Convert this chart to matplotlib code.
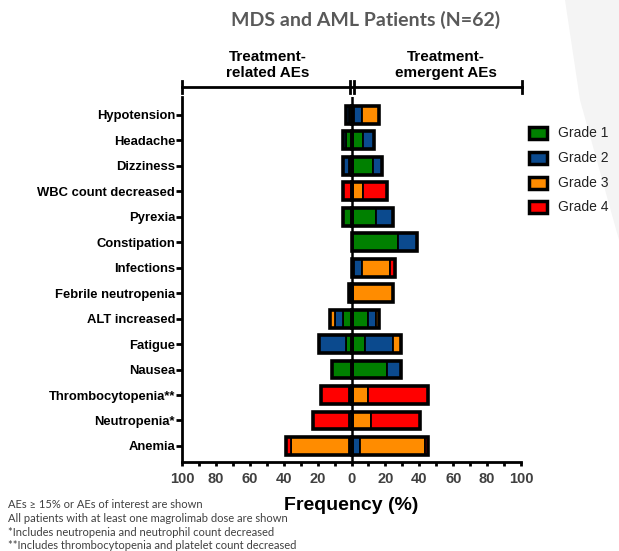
import numpy as np
import matplotlib
matplotlib.use("Agg")
import matplotlib.pyplot as plt
from matplotlib.patches import Rectangle, Polygon
from matplotlib.ticker import MultipleLocator, FuncFormatter

# categories, top to bottom
categories = ["Hypotension", "Headache", "Dizziness", "WBC count decreased", "Pyrexia",
              "Constipation", "Infections", "Febrile neutropenia", "ALT increased",
              "Fatigue", "Nausea", "Thrombocytopenia**", "Neutropenia*", "Anemia"]
grades = ["Grade 1", "Grade 2", "Grade 3", "Grade 4"]
grade_colors = ["#008000", "#0b4a8e", "#ff8c00", "#ff0000"]

# treatment-emergent AEs (right side), % per grade
teae_g1 = [1.6, 6.5, 12.9, 0, 14.5, 27.4, 1.6, 0, 9.7, 8.1, 21.0, 0, 0, 0]
teae_g2 = [4.8, 6.5, 4.8, 0, 9.7, 11.3, 4.8, 0, 4.8, 16.1, 8.1, 0, 0, 4.8]
teae_g3 = [9.7, 0, 0, 6.5, 0, 0, 16.1, 24.2, 1.6, 4.8, 0, 9.7, 11.3, 38.7]
teae_g4 = [0, 0, 0, 14.5, 0, 0, 3.2, 0, 0, 0, 0, 35.5, 29.0, 1.6]

# treatment-related AEs (left side), % per grade
trae_g1 = [1.6, 3.2, 1.6, 0, 4.8, 0, 0, 0, 4.8, 3.2, 11.3, 0, 0, 0]
trae_g2 = [1.6, 1.6, 3.2, 0, 0, 0, 0, 0, 4.8, 16.1, 0, 1.6, 0, 1.6]
trae_g3 = [0, 0, 0, 0, 0, 0, 0, 1.6, 3.2, 0, 0, 0, 1.6, 33.9]
trae_g4 = [0, 0, 0, 4.8, 0, 0, 0, 0, 0, 0, 0, 16.1, 21.0, 3.2]

footnotes = ["AEs \u2265 15% or AEs of interest are shown",
             "All patients with at least one magrolimab dose are shown",
             "*Includes neutropenia and neutrophil count decreased",
             "**Includes thrombocytopenia and platelet count decreased"]

W, H = 619, 551
fig = plt.figure(figsize=(W / 100, H / 100), dpi=100)

def fy(py):
    return 1 - py / H
def fx(px):
    return px / W

# faint slide decoration top right
fig.add_artist(Polygon([(fx(565), fy(0)), (fx(619), fy(0)), (fx(619), fy(240)), (fx(580), fy(100))],
                       closed=True, facecolor="#f4f4f4", edgecolor="none",
                       transform=fig.transFigure, zorder=0))

ax = fig.add_axes([182 / W, 1 - 462 / H, (521 - 182) / W, (462 - 97) / H])
ax.patch.set_alpha(0)

y = np.arange(len(categories))
bh = 0.7

def draw_side(series, sign):
    left = np.zeros(len(categories))
    for vals, col in zip(series, grade_colors):
        vals = np.array(vals, dtype=float)
        ax.barh(y, sign * vals, left=sign * left, height=bh, color=col,
                edgecolor="black", linewidth=1.3, zorder=3)
        left += vals
    # thick outline round each whole bar
    for yi, tot in zip(y, left):
        if tot > 0:
            ax.add_patch(Rectangle((0, yi - bh / 2), sign * tot, bh, fill=False,
                                   edgecolor="black", linewidth=2.6, zorder=4))

draw_side([teae_g1, teae_g2, teae_g3, teae_g4], 1)
draw_side([trae_g1, trae_g2, trae_g3, trae_g4], -1)

ax.axvline(0, color="black", linewidth=1.8, zorder=5)

ax.set_xlim(-100, 100)
ax.set_ylim(len(categories) - 1 + 0.63, -0.7)
ax.set_yticks(y)
ax.set_yticklabels(categories, fontsize=9.4, fontweight="bold", family="Liberation Sans")
ax.xaxis.set_major_locator(MultipleLocator(20))
ax.xaxis.set_minor_locator(MultipleLocator(10))
ax.xaxis.set_major_formatter(FuncFormatter(lambda v, p: f"{abs(v):.0f}"))
for lab in ax.get_xticklabels():
    lab.set_fontweight("bold")
    lab.set_family("Liberation Sans")
ax.tick_params(axis="x", labelsize=10.5, labelcolor="#404040", width=2, length=3,
               direction="out", pad=4)
ax.tick_params(axis="x", which="minor", width=2, length=3, direction="out")
ax.tick_params(axis="y", width=2, length=4, pad=1)
for s in ["top", "right"]:
    ax.spines[s].set_visible(False)
ax.spines["left"].set_linewidth(2)
ax.spines["bottom"].set_linewidth(2)

ax.set_xlabel("Frequency (%)", fontsize=14, fontweight="bold", family="Liberation Sans",
              labelpad=8)

# bracket over the two halves
by = 87
lk = dict(color="black", linewidth=2, transform=fig.transFigure)
fig.add_artist(plt.Line2D([fx(182), fx(522)], [fy(by), fy(by)], **lk))
for px in [182, 350.5, 354, 522]:
    fig.add_artist(plt.Line2D([fx(px), fx(px)], [fy(81), fy(93)], **lk))

fig.text(fx(268), fy(65), "Treatment-\nrelated AEs", ha="center", va="center",
         fontsize=11, fontweight="bold", family="Liberation Sans", linespacing=1.15)
fig.text(fx(446), fy(65), "Treatment-\nemergent AEs", ha="center", va="center",
         fontsize=11, fontweight="bold", family="Liberation Sans", linespacing=1.15)
fig.text(fx(366), fy(20), "MDS and AML Patients (N=62)", ha="center", va="center",
         fontsize=14, fontweight="bold", family="Lato", color="#595959")

# legend
for i, (g, c) in enumerate(zip(grades, grade_colors)):
    yy = 133 + i * 24.8
    fig.add_artist(Rectangle((fx(529), fy(yy + 6)), 18 / W, 12 / H, facecolor=c,
                             edgecolor="black", linewidth=2.5, transform=fig.transFigure))
    fig.text(fx(558), fy(yy), g, ha="left", va="center", fontsize=10,
             family="Liberation Sans", color="#222222")

for i, t in enumerate(footnotes):
    fig.text(fx(8), fy(505 + i * 13.6), t, ha="left", va="center", fontsize=8,
             family="Lato", color="#404040")

fig.savefig("out.png", dpi=100)
